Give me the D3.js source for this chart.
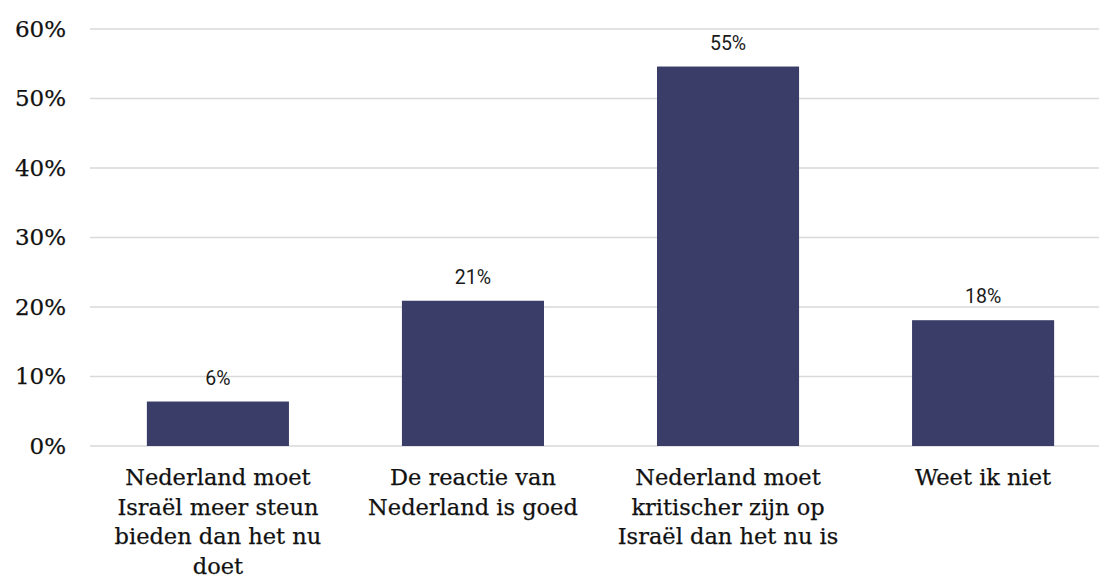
<!DOCTYPE html>
<html>
<head>
<meta charset="utf-8">
<script src="https://cdn.jsdelivr.net/npm/d3@7"></script>
<style>
  html, body { margin: 0; padding: 0; background: #fff; }
  svg { display: block; }
</style>
</head>
<body>
<svg id="chart" width="1099" height="577"></svg>
<script>
const categories = [
  "Nederland moet\nIsraël meer steun\nbieden dan het nu\ndoet",
  "De reactie van\nNederland is goed",
  "Nederland moet\nkritischer zijn op\nIsraël dan het nu is",
  "Weet ik niet"
];
const values = [0.064, 0.209, 0.546, 0.181];
const valueLabels = ["6%", "21%", "55%", "18%"];
const yTicks = [0, 0.1, 0.2, 0.3, 0.4, 0.5, 0.6];

const svg = d3.select("#chart");
const serif = "'DejaVu Serif', 'Liberation Serif', serif";

const x = d3.scaleBand()
  .domain(categories)
  .range([90.5, 1110.5])
  .paddingInner(0.443)
  .paddingOuter(0.221);

const y = d3.scaleLinear()
  .domain([0, 0.6])
  .range([446, 29]);

// gridlines
svg.append("g")
  .selectAll("line")
  .data(yTicks)
  .join("line")
  .attr("x1", 90)
  .attr("x2", 1099)
  .attr("y1", d => y(d))
  .attr("y2", d => y(d))
  .attr("stroke", "#d9d9d9")
  .attr("stroke-width", 1.5);

// y axis labels
const yAxis = d3.axisLeft(y)
  .tickValues(yTicks)
  .tickFormat(d3.format(".0%"))
  .tickSize(0)
  .tickPadding(0);

const yG = svg.append("g")
  .attr("transform", "translate(66,0)")
  .call(yAxis);
yG.select(".domain").remove();
yG.selectAll("text")
  .attr("font-family", serif)
  .attr("font-size", 23)
  .attr("fill", "#111")
  .attr("stroke", "#111")
  .attr("stroke-width", 0.25);

// bars
svg.append("g")
  .selectAll("rect")
  .data(values)
  .join("rect")
  .attr("x", (d, i) => x(categories[i]))
  .attr("width", x.bandwidth())
  .attr("y", d => y(d))
  .attr("height", d => y(0) - y(d))
  .attr("fill", "#393d68");

// value labels
svg.append("g")
  .selectAll("text")
  .data(values)
  .join("text")
  .attr("x", (d, i) => x(categories[i]) + x.bandwidth() / 2)
  .attr("y", d => y(d) - 17)
  .attr("text-anchor", "middle")
  .attr("font-family", "Roboto, sans-serif")
  .attr("font-size", 19.5)
  .attr("fill", "#1a1a1a")
  .text((d, i) => valueLabels[i]);

// category labels
const xAxis = d3.axisBottom(x).tickSize(0).tickPadding(0).tickFormat("");
const xG = svg.append("g")
  .attr("transform", `translate(0,${y(0)})`)
  .call(xAxis);
xG.select(".domain").remove();
xG.selectAll(".tick").each(function(d) {
  const t = d3.select(this).append("text")
    .attr("text-anchor", "middle")
    .attr("font-family", serif)
    .attr("font-size", 22.5)
    .attr("fill", "#111")
    .attr("stroke", "#111")
    .attr("stroke-width", 0.25);
  d.split("\n").forEach((line, i) => {
    t.append("tspan")
      .attr("x", 0)
      .attr("y", 39 + i * 29.5)
      .text(line);
  });
});
</script>
</body>
</html>
